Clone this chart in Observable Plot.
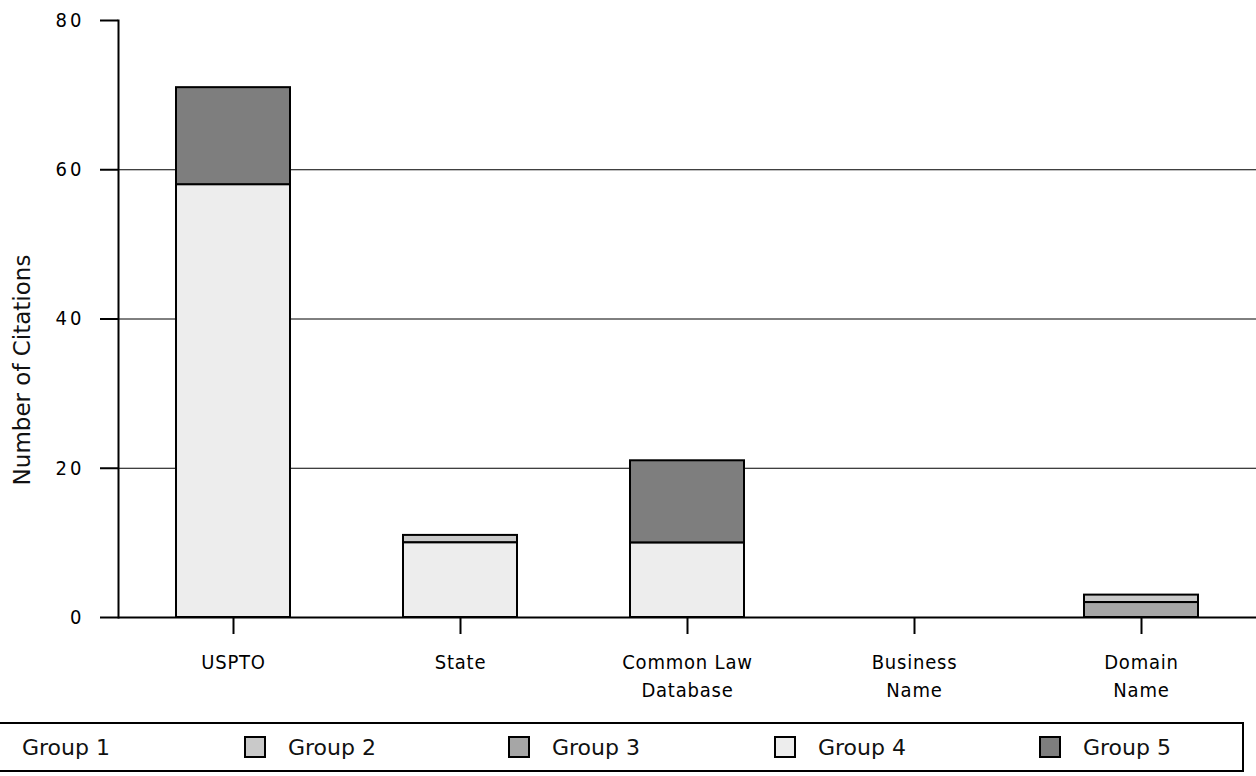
<!DOCTYPE html>
<html>
<head>
<meta charset="utf-8">
<script src="https://cdn.jsdelivr.net/npm/d3@7"></script>
<script src="https://cdn.jsdelivr.net/npm/@observablehq/plot@0.6"></script>
<style>
  html, body { margin: 0; padding: 0; background: #fff; }
  #wrap { position: relative; width: 1256px; height: 776px; overflow: hidden; }
  #chart { position: absolute; left: 0; top: 0; }
  #ylabel { position: absolute; left: 22px; top: 370px; transform: translate(-50%, -50%) rotate(-90deg);
    font-family: "DejaVu Sans", sans-serif; font-size: 23px; color: #111; white-space: nowrap; }
  #legend { position: absolute; left: -10px; top: 722px; width: 1254px; height: 50px; box-sizing: border-box;
    border: 2px solid #000; }
  .item { position: absolute; top: 0; height: 46px; display: flex; align-items: center;
    font-family: "DejaVu Sans", sans-serif; font-size: 22px; color: #111; }
  .sw { width: 22px; height: 22px; border: 2px solid #000; box-sizing: border-box; margin-right: 22px; }
  svg [aria-label="x-axis tick label"] text { font-family: "DejaVu Sans Condensed", "Liberation Sans Narrow", sans-serif; font-size: 20px; letter-spacing: 0.8px; fill: #000; }
  svg [aria-label="y-axis tick label"] text { font-family: "DejaVu Sans Condensed", "Liberation Sans Narrow", sans-serif; font-size: 20px; letter-spacing: 3px; fill: #000; }
</style>
</head>
<body>
<div id="wrap">
  <div id="chart"></div>
  <div id="ylabel">Number of Citations</div>
  <div id="legend"></div>
</div>
<script>
const categories = ["USPTO", "State", "Common Law\nDatabase", "Business\nName", "Domain\nName"];
const groups = ["Group 1", "Group 2", "Group 3", "Group 4", "Group 5"];
const group1 = [0, 0, 0, 0, 0];
const group2 = [0, 1, 0, 0, 1];
const group3 = [0, 0, 0, 0, 2];
const group4 = [58, 10, 10, 0, 0];
const group5 = [13, 0, 11, 0, 0];
const groupColors = ["#ffffff", "#c9c9c9", "#a6a6a6", "#ededed", "#7e7e7e"];
const stackOrder = ["Group 1", "Group 4", "Group 3", "Group 2", "Group 5"];
const yTicks = [0, 20, 40, 60, 80];
const gridTicks = [20, 40, 60];

const series = [group1, group2, group3, group4, group5];
const data = [];
groups.forEach((g, gi) => categories.forEach((c, ci) => data.push({category: c, group: g, value: series[gi][ci]})));

const chart = Plot.plot({
  width: 1256,
  height: 716,
  marginLeft: 118,
  marginRight: 0,
  marginTop: 20,
  marginBottom: 99,
  style: {fontFamily: "Liberation Sans, sans-serif", fontSize: "18px", color: "#111", background: "#fff"},
  x: {domain: categories, paddingInner: 0.5, paddingOuter: 0.255, label: null},
  y: {domain: [0, 80], label: null},
  color: {domain: groups, range: groupColors},
  marks: [
    Plot.gridY(gridTicks, {stroke: "#000", strokeOpacity: 1, strokeWidth: 1}),
    Plot.barY(data, Plot.stackY({
      x: "category", y: "value", fill: "group", order: stackOrder,
      stroke: "#000", strokeWidth: 2, filter: d => d.value > 0
    })),
    Plot.ruleY([0], {stroke: "#000", strokeWidth: 2}),
    Plot.frame({anchor: "left", stroke: "#000", strokeWidth: 2}),
    Plot.axisY({ticks: yTicks, tickSize: 18, tickPadding: 16, label: null, stroke: "#000", strokeWidth: 2}),
    Plot.axisX({tickSize: 17, tickPadding: 15, lineHeight: 1.4, label: null, stroke: "#000", strokeWidth: 2})
  ]
});
document.getElementById("chart").appendChild(chart);

const legendX = [22, 288, 552, 818, 1083];
const legend = document.getElementById("legend");
groups.forEach((g, i) => {
  const item = document.createElement("div");
  item.className = "item";
  item.style.left = (legendX[i] - 36) + "px";
  const sw = document.createElement("div");
  sw.className = "sw";
  sw.style.background = groupColors[i];
  const t = document.createElement("span");
  t.textContent = g;
  item.appendChild(sw);
  item.appendChild(t);
  legend.appendChild(item);
});
</script>
</body>
</html>
